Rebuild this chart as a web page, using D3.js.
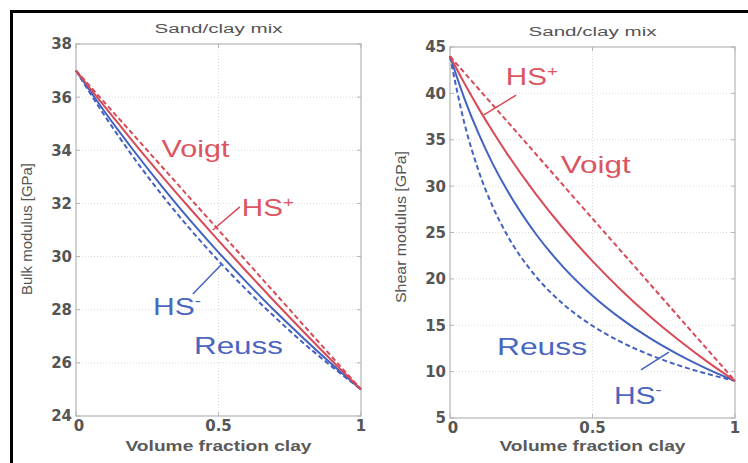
<!DOCTYPE html>
<html>
<head>
<meta charset="utf-8">
<script src="https://cdn.jsdelivr.net/npm/d3@7"></script>
<style>
  body { margin: 0; background: #fff; }
  svg { display: block; }
</style>
</head>
<body>
<div id="chart"></div>
<script>
// volume fraction of clay
const fraction = [0, 0.05, 0.1, 0.15, 0.2, 0.3, 0.4, 0.5, 0.6, 0.7, 0.8, 0.9, 1];

// bulk modulus [GPa]
const bulkVoigt = [37, 36.4, 35.8, 35.2, 34.6, 33.4, 32.2, 31.0, 29.8, 28.6, 27.4, 26.2, 25];
const bulkHSplus = [37, 36.32, 35.65, 34.99, 34.33, 33.05, 31.81, 30.6, 29.42, 28.27, 27.15, 26.06, 25];
const bulkHSminus = [37, 36.22, 35.46, 34.73, 34.02, 32.66, 31.37, 30.16, 29.02, 27.93, 26.91, 25.93, 25];
const bulkReuss = [37, 36.14, 35.31, 34.52, 33.76, 32.34, 31.04, 29.84, 28.73, 27.7, 26.73, 25.84, 25];

// shear modulus [GPa]
const shearVoigt = [44, 42.25, 40.5, 38.75, 37, 33.5, 30, 26.5, 23, 19.5, 16, 12.5, 9];
const shearHSplus = [44, 41.11, 38.41, 35.88, 33.51, 29.19, 25.35, 21.91, 18.81, 16.01, 13.46, 11.13, 9];
const shearHSminus = [44, 39.49, 35.68, 32.4, 29.57, 24.89, 21.19, 18.19, 15.72, 13.63, 11.86, 10.33, 9];
const shearReuss = [44, 36.84, 31.68, 27.79, 24.75, 20.31, 17.22, 14.94, 13.2, 11.82, 10.7, 9.78, 9];

const xTicks = [0, 0.5, 1];
const bulkTicks = [24, 26, 28, 30, 32, 34, 36, 38];
const shearTicks = [5, 10, 15, 20, 25, 30, 35, 40, 45];

const red = "#d84a56", blue = "#4262c2";
const redText = "#dc5661", blueText = "#4a66bf";

const W = 748, H = 463;
const svg = d3.select("#chart").append("svg")
    .attr("width", W).attr("height", H);

svg.append("rect").attr("width", W).attr("height", H).attr("fill", "#fff");

// black frame (runs off the right and bottom edges)
svg.append("rect")
    .attr("x", 11.5).attr("y", 11.5)
    .attr("width", 800).attr("height", 600)
    .attr("fill", "none").attr("stroke", "#000").attr("stroke-width", 3);

function drawPanel(p) {
    const x = d3.scaleLinear().domain([0, 1]).range([p.left, p.right]);
    const y = d3.scaleLinear().domain(p.yDomain).range([p.bottom, p.top]);
    const g = svg.append("g");

    // grid
    g.selectAll(".gx").data(xTicks.slice(1, -1)).enter().append("line")
        .attr("x1", d => x(d)).attr("x2", d => x(d))
        .attr("y1", p.top).attr("y2", p.bottom)
        .attr("stroke", "#dcdcdc").attr("stroke-dasharray", "1,2");
    g.selectAll(".gy").data(p.ticks.slice(1, -1)).enter().append("line")
        .attr("y1", d => y(d)).attr("y2", d => y(d))
        .attr("x1", p.left).attr("x2", p.right)
        .attr("stroke", "#dcdcdc").attr("stroke-dasharray", "1,2");

    // box + inward ticks
    g.append("rect")
        .attr("x", p.left).attr("y", p.top)
        .attr("width", p.right - p.left).attr("height", p.bottom - p.top)
        .attr("fill", "none").attr("stroke", "#b4b4b4").attr("stroke-width", 1.2);
    g.selectAll(".ty").data(p.ticks).enter().append("path")
        .attr("d", d => `M${p.left},${y(d)}h4M${p.right},${y(d)}h-4`)
        .attr("stroke", "#b4b4b4");
    g.selectAll(".tx").data(xTicks).enter().append("path")
        .attr("d", d => `M${x(d)},${p.bottom}v-4M${x(d)},${p.top}v4`)
        .attr("stroke", "#b4b4b4");

    // tick labels
    g.selectAll(".ly").data(p.ticks).enter().append("text")
        .attr("x", p.left - 4).attr("y", d => y(d))
        .attr("dy", "0.36em").attr("text-anchor", "end")
        .attr("font-family", "DejaVu Sans").attr("font-weight", "bold")
        .attr("font-size", 15).attr("fill", "#555")
        .text(d => d);
    g.selectAll(".lx").data(xTicks).enter().append("text")
        .attr("x", d => x(d) + (d === 0 ? 3 : 0)).attr("y", p.bottom + 15)
        .attr("text-anchor", "middle")
        .attr("font-family", "DejaVu Sans").attr("font-weight", "bold")
        .attr("font-size", 15).attr("fill", "#555")
        .text(d => d);

    // titles
    g.append("text")
        .attr("x", (p.left + p.right) / 2).attr("y", p.top - 11)
        .attr("text-anchor", "middle")
        .attr("font-family", "Liberation Sans").attr("font-size", 12)
        .attr("fill", "#555")
        .attr("textLength", 128).attr("lengthAdjust", "spacingAndGlyphs")
        .text("Sand/clay mix");
    g.append("text")
        .attr("x", (p.left + p.right) / 2).attr("y", 451)
        .attr("text-anchor", "middle")
        .attr("font-family", "Liberation Sans").attr("font-weight", "bold")
        .attr("font-size", 14).attr("fill", "#5a5a5a")
        .attr("textLength", 186).attr("lengthAdjust", "spacingAndGlyphs")
        .text("Volume fraction clay");
    g.append("text")
        .attr("transform", `translate(${p.yLabelX},${p.yLabelY}) rotate(-90)`)
        .attr("text-anchor", "middle")
        .attr("font-family", "Liberation Sans")
        .attr("font-size", 14).attr("fill", "#555")
        .attr("textLength", p.yLabelLen).attr("lengthAdjust", "spacingAndGlyphs")
        .text(p.yLabel);

    // curves
    const line = d3.line()
        .x((d, i) => x(fraction[i]))
        .y(d => y(d))
        .curve(d3.curveMonotoneX);
    const series = [
        {v: p.reuss, c: blue, dash: "5,3"},
        {v: p.hsMinus, c: blue, dash: null},
        {v: p.hsPlus, c: red, dash: null},
        {v: p.voigt, c: red, dash: "5,3"}
    ];
    g.selectAll(".curve").data(series).enter().append("path")
        .attr("d", d => line(d.v))
        .attr("fill", "none")
        .attr("stroke", d => d.c)
        .attr("stroke-width", 2)
        .attr("stroke-dasharray", d => d.dash);

    // leader lines
    p.leaders.forEach(l => {
        g.append("line")
            .attr("x1", x(l[0])).attr("y1", y(l[1]))
            .attr("x2", x(l[2])).attr("y2", y(l[3]))
            .attr("stroke", l[4]).attr("stroke-width", 1.5);
    });

    // labels
    p.labels.forEach(l => {
        const t = g.append("text")
            .attr("x", x(l.f)).attr("y", y(l.v))
            .attr("font-family", "Liberation Sans").attr("font-size", 24)
            .attr("fill", l.c)
            .attr("textLength", l.w).attr("lengthAdjust", "spacingAndGlyphs");
        t.append("tspan").text(l.text);
        if (l.sup) {
            t.append("tspan").attr("font-size", 15).attr("dy", -9).text(l.sup);
        }
    });
}

drawPanel({
    left: 76, right: 361, top: 44, bottom: 416,
    yDomain: [24, 38], ticks: bulkTicks,
    yLabel: "Bulk modulus [GPa]", yLabelX: 32, yLabelY: 229, yLabelLen: 132,
    voigt: bulkVoigt, hsPlus: bulkHSplus, hsMinus: bulkHSminus, reuss: bulkReuss,
    leaders: [[0.48, 31.0, 0.575, 31.87, red], [0.41, 28.59, 0.512, 29.72, blue]],
    labels: [
        {text: "Voigt", f: 0.30, v: 33.75, c: redText, w: 68},
        {text: "HS", sup: "+", f: 0.582, v: 31.53, c: redText, w: 52},
        {text: "HS", sup: "-", f: 0.27, v: 27.8, c: blueText, w: 48},
        {text: "Reuss", f: 0.414, v: 26.33, c: blueText, w: 89}
    ]
});

drawPanel({
    left: 450, right: 735, top: 47, bottom: 418,
    yDomain: [5, 45], ticks: shearTicks,
    yLabel: "Shear modulus [GPa]", yLabelX: 406, yLabelY: 227, yLabelLen: 152,
    voigt: shearVoigt, hsPlus: shearHSplus, hsMinus: shearHSminus, reuss: shearReuss,
    leaders: [[0.119, 37.67, 0.232, 39.82, red], [0.67, 10.2, 0.768, 12.1, blue]],
    labels: [
        {text: "HS", sup: "+", f: 0.196, v: 40.9, c: redText, w: 52},
        {text: "Voigt", f: 0.389, v: 31.42, c: redText, w: 70},
        {text: "Reuss", f: 0.165, v: 11.8, c: blueText, w: 90},
        {text: "HS", sup: "-", f: 0.575, v: 6.5, c: blueText, w: 48}
    ]
});
</script>
</body>
</html>
